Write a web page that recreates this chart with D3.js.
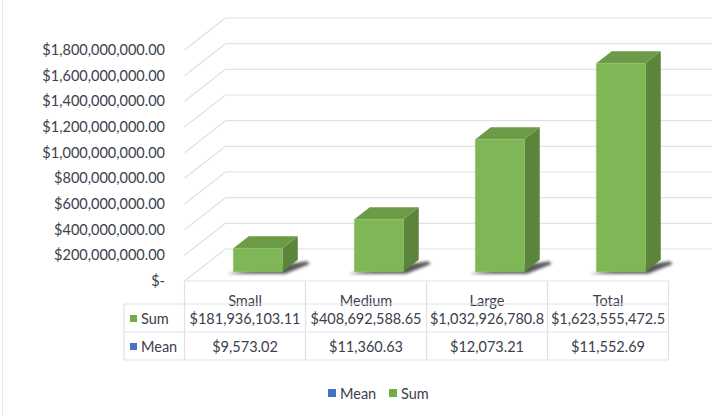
<!DOCTYPE html>
<html><head><meta charset="utf-8">
<script src="https://cdn.jsdelivr.net/npm/d3@7"></script>
<style>body{margin:0;background:#fff}svg{display:block}text{font-family:Lato,"Open Sans",sans-serif}</style>
</head><body><svg id="c" width="713" height="416"></svg>
<script>
const categories = ["Small", "Medium", "Large", "Total"];
const sumValues = [181936103.11, 408692588.65, 1032926780.8, 1623555472.5];
const meanValues = [9573.02, 11360.63, 12073.21, 11552.69];
const sumLabels = ["$181,936,103.11", "$408,692,588.65", "$1,032,926,780.8", "$1,623,555,472.5"];
const meanLabels = ["$9,573.02", "$11,360.63", "$12,073.21", "$11,552.69"];
const yTicks = [0, 200e6, 400e6, 600e6, 800e6, 1000e6, 1200e6, 1400e6, 1600e6, 1800e6];
const seriesNames = ["Mean", "Sum"];

const svg = d3.select("#c");
const txt = "#3a404c", grid = "#dfe1e7";
const floorY = 281, DX = 41, DY = 32;
const x = d3.scaleBand().domain(categories).range([184.5, 668.5]);
const h = d3.scaleLinear().domain([0, 1800e6]).range([0, 231]);
const P = (sx, v, d) => [sx + d * DX, floorY - h(v) - d * DY];
const fmt = v => v === 0 ? "$-" : d3.format("$,.2f")(v);

// outer border
svg.append("line").attr("x1", 2.5).attr("x2", 2.5).attr("y1", 0).attr("y2", 416).attr("stroke", "#e6e6e6");

// grid: back wall and left wall
const g = svg.append("g").attr("fill", "none").attr("stroke", grid).attr("stroke-width", 1.2);
yTicks.forEach(t => {
  const a = P(x.range()[0], t, 0), b = P(x.range()[0], t, 1);
  g.append("line").attr("x1", a[0]).attr("y1", a[1]).attr("x2", b[0]).attr("y2", b[1]);
  g.append("line").attr("x1", b[0]).attr("y1", b[1]).attr("x2", 712).attr("y2", b[1]);
});

// y labels
svg.append("g").selectAll("text").data(yTicks).join("text")
  .attr("x", 165).attr("y", d => P(0, d, 0)[1]).attr("dy", "0.35em")
  .attr("text-anchor", "end").attr("fill", txt).attr("font-size", 14.5)
  .text(fmt);

// shadows
const defs = svg.append("defs");
defs.append("filter").attr("id", "blur").attr("x", "-50%").attr("y", "-50%").attr("width", "200%").attr("height", "200%")
  .append("feGaussianBlur").attr("stdDeviation", 1.6);
const d0 = 0.29, d1 = 0.665, bw = 49;
const bars = categories.map((c, i) => ({ c, v: sumValues[i], x0: x(c) + x.bandwidth() / 2 - bw / 2 + 1, x1: x(c) + x.bandwidth() / 2 + bw / 2 + 1 }));
svg.append("g").selectAll("path").data(bars).join("path")
  .attr("filter", "url(#blur)").attr("fill", "#3a3a3a").attr("opacity", 0.85)
  .attr("d", b => {
    const p = [P(b.x0 - 5, 0, d0 - 0.03), P(b.x1 + 4, 0, d0 - 0.03), P(b.x1 + 16, 0, d1 - 0.1), P(b.x1 + 10, 0, d1 - 0.02)];
    return "M" + p.map(q => [q[0], q[1] + 1].join(",")).join("L") + "Z";
  });

// bars
const bg = svg.append("g");
bars.forEach(b => {
  const poly = pts => "M" + pts.map(q => q.join(",")).join("L") + "Z";
  bg.append("path").attr("fill", "#5c843a").attr("d", poly([P(b.x1, 0, d0), P(b.x1, 0, d1), P(b.x1, b.v, d1), P(b.x1, b.v, d0)]));
  bg.append("path").attr("fill", "#6b9b47").attr("d", poly([P(b.x0, b.v, d0), P(b.x1, b.v, d0), P(b.x1, b.v, d1), P(b.x0, b.v, d1)]));
  bg.append("path").attr("fill", "#80b756").attr("stroke", "#8cc063").attr("stroke-width", 0.6)
    .attr("d", poly([P(b.x0, 0, d0), P(b.x1, 0, d0), P(b.x1, b.v, d0), P(b.x0, b.v, d0)]));
});

// data table
const rowTop = 304, rowH = 28;
const tg = svg.append("g");
tg.selectAll("text.cat").data(categories).join("text").attr("class", "cat")
  .attr("x", d => x(d) + x.bandwidth() / 2).attr("y", 306).attr("text-anchor", "middle")
  .attr("fill", txt).attr("font-size", 14.5).text(d => d);
const rows = [{ name: seriesNames[1], color: "#70ad47", labels: sumLabels }, { name: seriesNames[0], color: "#4472c4", labels: meanLabels }];
rows.forEach((r, ri) => {
  const cy = rowTop + rowH * ri + rowH / 2 + 1;
  tg.append("rect").attr("x", 130).attr("y", cy - 4).attr("width", 7).attr("height", 7).attr("fill", r.color);
  tg.append("text").attr("x", 141).attr("y", cy).attr("dy", "0.35em").attr("fill", txt).attr("font-size", 14.5).text(r.name);
  tg.selectAll(null).data(categories).join("text")
    .attr("x", d => x(d) + x.bandwidth() / 2).attr("y", cy).attr("dy", "0.35em").attr("text-anchor", "middle")
    .attr("fill", txt).attr("font-size", 14.5).text((d, i) => r.labels[i]);
});
const lg = svg.append("g").attr("stroke", grid).attr("stroke-width", 1.2);
lg.append("line").attr("x1", x.range()[0]).attr("x2", x.range()[1]).attr("y1", floorY).attr("y2", floorY);
[rowTop, rowTop + rowH, rowTop + 2 * rowH].forEach(y => lg.append("line").attr("x1", 124).attr("x2", x.range()[1]).attr("y1", y).attr("y2", y));
categories.forEach(c => lg.append("line").attr("x1", x(c)).attr("x2", x(c)).attr("y1", floorY).attr("y2", rowTop + 2 * rowH));
lg.append("line").attr("x1", x.range()[1]).attr("x2", x.range()[1]).attr("y1", floorY).attr("y2", rowTop + 2 * rowH);
lg.append("line").attr("x1", 124).attr("x2", 124).attr("y1", rowTop).attr("y2", rowTop + 2 * rowH);

// legend
const leg = svg.append("g");
const legItems = [{ n: seriesNames[0], c: "#4472c4", x: 328 }, { n: seriesNames[1], c: "#70ad47", x: 389 }];
legItems.forEach(l => {
  leg.append("rect").attr("x", l.x).attr("y", 389).attr("width", 8).attr("height", 8).attr("fill", l.c);
  leg.append("text").attr("x", l.x + 12).attr("y", 394).attr("dy", "0.35em").attr("fill", txt).attr("font-size", 14.5).text(l.n);
});
</script></body></html>
